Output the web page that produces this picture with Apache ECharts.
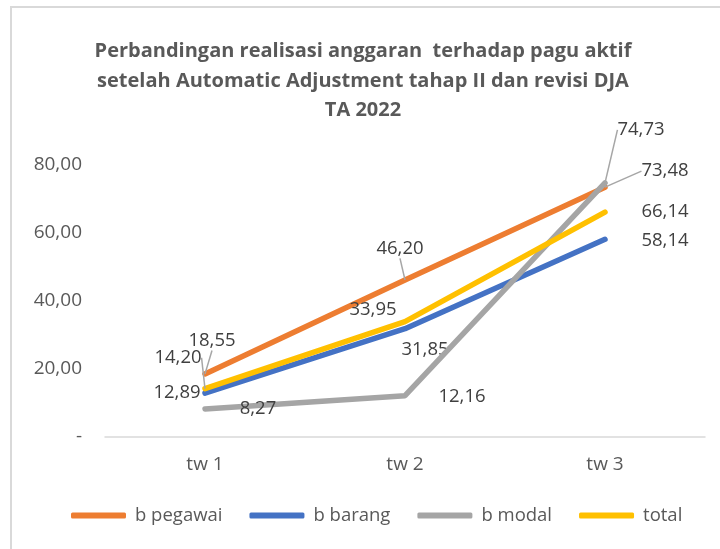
<!DOCTYPE html>
<html>
<head>
<meta charset="utf-8">
<script src="https://cdn.jsdelivr.net/npm/echarts@6/dist/echarts.min.js"></script>
<style>
  html, body { margin: 0; padding: 0; background: #fff; }
  #chart { width: 720px; height: 549px; }
</style>
</head>
<body>
<div id="chart"></div>
<script>
const categories = ["tw 1", "tw 2", "tw 3"];
const bPegawai = [18.55, 46.20, 73.48];
const bBarang = [12.89, 31.85, 58.14];
const bModal = [8.27, 12.16, 74.73];
const total = [14.20, 33.95, 66.14];
const yTicks = [0, 20, 40, 60, 80];

const FONT = '"Open Sans", sans-serif';
const colors = ["#ED7D31", "#4472C4", "#A5A5A5", "#FFC000"];

// label offsets from each point (dx, dy), and which ones get a leader line
const labelShift = [
  [[7, -33], [-5, -31], [60, -16]],
  [[-28, 0], [20, 21], [60, 1]],
  [[53, 0], [57, 1], [36, -53]],
  [[-27, -31], [-32, -12], [60, 0]]
];
const leader = [
  [true, true, true],
  [false, false, false],
  [false, false, true],
  [true, false, false]
];

const fmt = v => v.toFixed(2).replace(".", ",");

function makeSeries(name, values, i) {
  return {
    name: name,
    type: "line",
    data: values.map((v, j) => ({
      value: v,
      labelLine: { show: leader[i][j] }
    })),
    symbol: "circle",
    symbolSize: 0.1,
    showSymbol: true,
    lineStyle: { width: 5.5, color: colors[i], cap: "round", join: "round" },
    itemStyle: { color: colors[i] },
    z: 2 + i,
    label: {
      show: true,
      position: "inside",
      fontFamily: FONT,
      fontSize: 18.5,
      color: "#404040",
      formatter: p => fmt(p.value)
    },
    labelLine: { show: false, lineStyle: { color: "#A6A6A6", width: 1.5 } },
    labelLayout: p => ({ dx: labelShift[i][p.dataIndex][0], dy: labelShift[i][p.dataIndex][1] })
  };
}

const chart = echarts.init(document.getElementById("chart"));
chart.setOption({
  animation: false,
  backgroundColor: "#fff",
  title: {
    text: "Perbandingan realisasi anggaran  terhadap pagu aktif\nsetelah Automatic Adjustment tahap II dan revisi DJA\nTA 2022",
    left: 358,
    textAlign: "center",
    top: 32,
    textStyle: {
      fontFamily: FONT,
      fontWeight: "bold",
      fontSize: 20,
      lineHeight: 29.5,
      color: "#595959"
    }
  },
  graphic: [
    {
      type: "rect",
      shape: { x: 11, y: 7, width: 900, height: 700 },
      style: { fill: null, stroke: "#D9D9D9", lineWidth: 2 },
      silent: true
    },
    {
      type: "text",
      left: 497,
      top: -24,
      style: { text: "dilakukan Automatic", font: '26px ' + FONT, fill: "#000" },
      silent: true
    }
  ],
  legend: {
    bottom: 19,
    left: 66,
    itemWidth: 55,
    itemHeight: 6,
    itemGap: 27,
    icon: "roundRect",
    textStyle: { fontFamily: FONT, fontSize: 18.5, color: "#595959", padding: [0, 0, 0, 4] },
    data: ["b pegawai", "b barang", "b modal", "total"]
  },
  grid: { left: 105, right: 15, top: 165, bottom: 112 },
  xAxis: {
    type: "category",
    data: categories,
    axisLine: { lineStyle: { color: "#D9D9D9", width: 1.5 } },
    axisTick: { show: false },
    axisLabel: { fontFamily: FONT, fontSize: 19, color: "#595959", margin: 18 }
  },
  yAxis: {
    type: "value",
    min: yTicks[0],
    max: yTicks[yTicks.length - 1],
    interval: 20,
    splitLine: { show: false },
    axisLine: { show: false },
    axisTick: { show: false },
    axisLabel: {
      fontFamily: FONT,
      fontSize: 19,
      color: "#595959",
      margin: 23,
      formatter: v => (v === 0 ? "-" : fmt(v))
    }
  },
  series: [
    makeSeries("b pegawai", bPegawai, 0),
    makeSeries("b barang", bBarang, 1),
    makeSeries("b modal", bModal, 2),
    makeSeries("total", total, 3)
  ]
});
</script>
</body>
</html>
